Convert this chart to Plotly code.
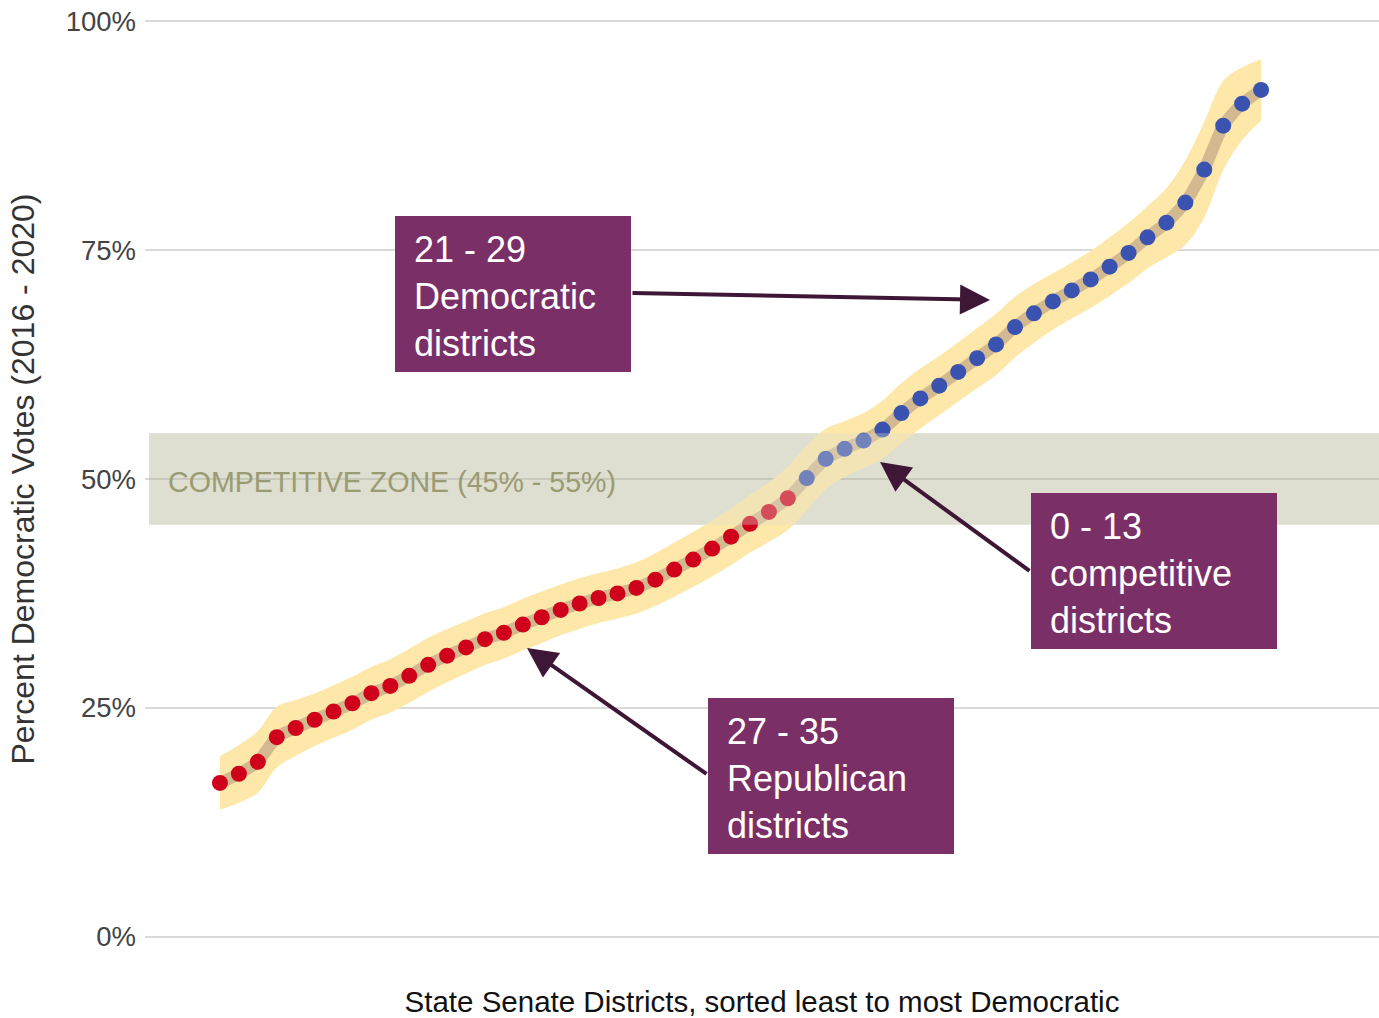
import numpy as np
import plotly.graph_objects as go

# Districts sorted from least to most Democratic, average Democratic vote share (%)
districts = list(range(1, 57))
dem_pct = [16.8, 17.8, 19.1, 21.8, 22.8, 23.7, 24.6, 25.5, 26.6, 27.4,
           28.5, 29.7, 30.7, 31.6, 32.5, 33.2, 34.1, 34.9, 35.7, 36.4,
           37.0, 37.5, 38.1, 39.0, 40.1, 41.2, 42.4, 43.7, 45.1, 46.4,
           47.9, 50.1, 52.2, 53.3, 54.2, 55.4, 57.2, 58.8, 60.2, 61.7,
           63.2, 64.7, 66.6, 68.1, 69.4, 70.6, 71.8, 73.2, 74.7, 76.4,
           78.0, 80.2, 83.8, 88.6, 91.0, 92.5]
y_ticks = [0, 25, 50, 75, 100]
y_tick_labels = ["0%", "25%", "50%", "75%", "100%"]
zone_low, zone_high = 45, 55

RED = "#d0021b"
BLUE = "#3a53b0"
BAND = "#fde7a9"
TAN = "#d3b98f"
PURPLE = "#7b2f67"
ARROW = "#3e1737"
ZONE = "#dedfd0"

W, H = 1379, 1018
PL, PR, PT, PB = 145, 1379, 3, 955
X_RANGE = [-2.96, 62.23]
Y_RANGE = [-2, 102]


def px(x):
    return (x - PL) / (PR - PL)


def py(y):
    return (PB - y) / (PB - PT)


# Vertical half-height of the highlight band so it keeps a steady thickness on slopes
x_arr = np.array(districts, dtype=float)
y_arr = np.array(dem_pct, dtype=float)
px_per_x = (PR - PL) / (X_RANGE[1] - X_RANGE[0])
px_per_y = (PB - PT) / (Y_RANGE[1] - Y_RANGE[0])
slope = np.gradient(y_arr, x_arr) * px_per_y / px_per_x
slope = np.convolve(np.pad(slope, 1, mode="edge"), np.ones(3) / 3, mode="valid")
half_px = 24.0
half_v = half_px * np.sqrt(1 + slope ** 2) / px_per_y

colors = [RED if v < 50 else BLUE for v in dem_pct]

fig = go.Figure()
fig.add_trace(go.Scatter(x=districts, y=list(y_arr - half_v), mode="lines",
                         line=dict(width=0, color=BAND, shape="spline", smoothing=1.0),
                         hoverinfo="skip", showlegend=False))
fig.add_trace(go.Scatter(x=districts, y=list(y_arr + half_v), mode="lines",
                         line=dict(width=0, color=BAND, shape="spline", smoothing=1.0),
                         fill="tonexty", fillcolor=BAND,
                         hoverinfo="skip", showlegend=False))
fig.add_trace(go.Scatter(x=districts, y=dem_pct, mode="lines",
                         line=dict(width=12, color=TAN, shape="spline", smoothing=0.6),
                         hoverinfo="skip", showlegend=False))
fig.add_trace(go.Scatter(x=districts, y=dem_pct, mode="markers",
                         marker=dict(size=16, color=colors, line=dict(width=0)),
                         showlegend=False))

shapes = [
    # competitive zone background (under gridlines)
    dict(type="rect", xref="paper", yref="y", x0=px(149), x1=1, y0=zone_low, y1=zone_high,
         fillcolor=ZONE, line=dict(width=0), layer="below"),
    # translucent wash over the points inside the zone
    dict(type="rect", xref="paper", yref="y", x0=px(149), x1=1, y0=zone_low, y1=zone_high,
         fillcolor="rgba(222,223,208,0.34)", line=dict(width=0), layer="above"),
]

boxes = [
    # (left, top, right, bottom, text)
    (395, 216, 631, 372, "21 - 29<br>Democratic<br>districts"),
    (708, 698, 954, 854, "27 - 35<br>Republican<br>districts"),
    (1031, 493, 1277, 649, "0 - 13<br>competitive<br>districts"),
]
annotations = []
for l, t, r, b, txt in boxes:
    shapes.append(dict(type="rect", xref="paper", yref="paper",
                       x0=px(l), x1=px(r), y0=py(b), y1=py(t),
                       fillcolor=PURPLE, line=dict(width=0), layer="above"))
    annotations.append(dict(xref="paper", yref="paper", x=px(l + 17), y=py((t + b) / 2 + 2),
                            xanchor="left", yanchor="middle", align="left",
                            text=txt, showarrow=False,
                            font=dict(family="Liberation Sans, Arial, sans-serif",
                                      size=36, color="white")))

arrows = [
    # (tail x, tail y, tip x, tip y)
    (631, 293, 990, 300),
    (708, 775, 527, 648),
    (1031, 572, 880, 462),
]
for sx, sy, tx, ty in arrows:
    annotations.append(dict(xref="paper", yref="paper", x=px(tx), y=py(ty),
                            ax=sx - tx, ay=sy - ty, text="", showarrow=True,
                            arrowhead=2, arrowsize=1.5, arrowwidth=4,
                            arrowcolor=ARROW, standoff=0, startstandoff=0))

annotations.append(dict(xref="paper", yref="paper", x=px(166), y=py(482),
                        xanchor="left", yanchor="middle",
                        text="COMPETITIVE ZONE (45% - 55%)", showarrow=False,
                        font=dict(family="Liberation Sans, Arial, sans-serif",
                                  size=28.6, color="#9b9b73")))

fig.update_layout(
    width=W, height=H,
    margin=dict(l=PL, r=W - PR, t=PT, b=H - PB, autoexpand=False),
    paper_bgcolor="white", plot_bgcolor="white",
    font=dict(family="Liberation Sans, Arial, sans-serif"),
    shapes=shapes, annotations=annotations,
    showlegend=False,
    xaxis=dict(range=X_RANGE, showgrid=False, zeroline=False, showline=False,
               showticklabels=False, ticks="", automargin=False,
               title=dict(text="State Senate Districts, sorted least to most Democratic",
                          font=dict(size=29.5, color="#111111"), standoff=37)),
    yaxis=dict(range=Y_RANGE, tickvals=y_ticks, ticktext=y_tick_labels,
               showgrid=True, gridcolor="rgba(0,0,0,0.15)", gridwidth=2,
               zeroline=False, showline=False, ticks="", automargin=False,
               ticklabelstandoff=8,
               tickfont=dict(size=27.5, color="#444444"),
               title=dict(text="Percent Democratic Votes (2016 - 2020)",
                          font=dict(size=32, color="#333333"), standoff=21)),
)

fig.write_html("out.html")
